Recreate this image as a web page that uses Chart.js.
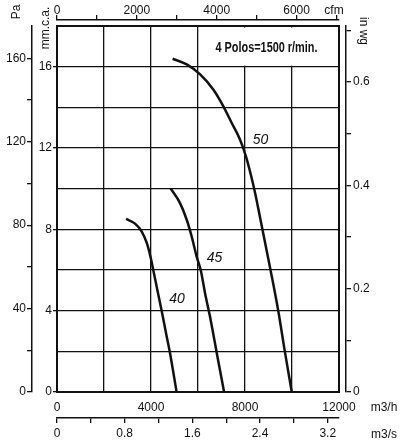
<!DOCTYPE html>
<html>
<head>
<meta charset="utf-8">
<script src="https://cdn.jsdelivr.net/npm/chart.js@4.4.1/dist/chart.umd.min.js"></script>
<style>
body { margin: 0; background: #fff; }
#wrap { width: 400px; height: 443px; position: relative; }
</style>
</head>
<body>
<div id="wrap"><canvas id="mycanvas"></canvas></div>
<script>
// flow in m3/h, pressure in mm c.a.
var flow40 = [2940, 3320, 3600, 3820, 3990, 4100, 4270, 4460, 4640, 4810, 5090];
var press40 = [8.51, 8.28, 7.90, 7.33, 6.59, 5.98, 5.02, 3.96, 2.89, 1.91, 0];

var flow45 = [4840, 5230, 5520, 5730, 5940, 6120, 6300, 6510, 6800, 7110];
var press45 = [10.0, 9.30, 8.47, 7.65, 6.67, 5.98, 4.86, 3.71, 1.91, 0];

var flow50 = [4920, 5520, 6090, 6650, 7080, 7430, 7790, 8040, 8230, 8430, 8660, 9090, 9420, 9700, 9990];
var press50 = [16.39, 16.11, 15.62, 14.88, 14.05, 13.24, 12.41, 11.59, 10.77, 9.79, 8.47, 5.98, 3.96, 1.96, 0];

var sizes = ["40", "45", "50"];
var title = "4 Polos=1500 r/min.";

// tick positions of the extra axes, each in its own unit
var cfmTicks = [0, 1000, 2000, 3000, 4000, 5000, 6000, 7000];
var m3sTicks = [0, 0.4, 0.8, 1.2, 1.6, 2.0, 2.4, 2.8, 3.2];
var paTicks = [0, 20, 40, 60, 80, 100, 120, 140, 160];
var inwgTicks = [0, 0.1, 0.2, 0.3, 0.4, 0.5, 0.6, 0.7];

// axis ranges and unit conversions
var maxFlow = 12000;      // m3/h
var maxMM = 18;           // mm c.a.
var PA_PER_MM = 9.75;
var MM_PER_INWG = 25.4;
var M3H_PER_CFM = 1.699;
var M3H_PER_M3S = 3600;

var ink = "#111";
var fam = '"Liberation Sans", Arial, Helvetica, sans-serif';
var tickFont = { family: fam, size: 12 };

function pts(xs, ys) {
	var out = [];
	for (var i in xs) out.push({ x: xs[i], y: ys[i] });
	return out;
}

function curve(label, xs, ys) {
	return {
		label: label,
		data: pts(xs, ys),
		borderColor: ink,
		borderWidth: 2.5,
		pointRadius: 0,
		fill: false,
		cubicInterpolationMode: "monotone",
		xAxisID: "x",
		yAxisID: "y"
	};
}

function fixW(w) { return function(s) { s.width = w; }; }
function fixH(h) { return function(s) { s.height = h; }; }
function useTicks(list) {
	return function(s) { s.ticks = list.map(function(v) { return { value: v }; }); };
}
// label every n-th step
function every(step, n, dec) {
	return function(v) {
		var k = Math.round(v / step);
		if (k % n !== 0) return "";
		return k === 0 ? "0" : (dec ? v.toFixed(dec) : String(v));
	};
}

var spacer = {
	display: true,
	ticks: { display: false },
	grid: { drawOnChartArea: false, drawTicks: false },
	border: { color: ink, width: 2 }
};

function extraAxis(pos, weight, max, list, labelFn, size, pad) {
	return {
		type: "linear", axis: (pos === "top" || pos === "bottom") ? "x" : "y",
		position: pos, weight: weight, min: 0, max: max,
		afterBuildTicks: useTicks(list),
		ticks: { autoSkip: false, maxRotation: 0, padding: pad, color: ink, font: tickFont, callback: labelFn },
		grid: { drawOnChartArea: false, color: ink, lineWidth: 1.3, tickLength: 5 },
		border: { color: ink, width: 1.5 },
		afterFit: (pos === "top" || pos === "bottom") ? fixH(size) : fixW(size)
	};
}

var labelsPlugin = {
	id: "labels",
	beforeDatasetsDraw: function(chart) {
		var ctx = chart.ctx;
		var sx = chart.scales.x, sy = chart.scales.y;
		var x0 = sx.getPixelForValue(6000), x1 = sx.getPixelForValue(maxFlow);
		var y0 = sy.getPixelForValue(maxMM), y1 = sy.getPixelForValue(16);
		ctx.save();
		ctx.fillStyle = "#fff";
		ctx.fillRect(x0 + 1, y0 + 1.5, x1 - x0 - 2.5, y1 - y0 - 2.5);
		// title, squeezed like the original condensed type
		ctx.font = "bold 14px " + fam;
		ctx.fillStyle = ink;
		ctx.textAlign = "center";
		ctx.textBaseline = "middle";
		var w = ctx.measureText(title).width;
		ctx.translate((x0 + x1) / 2 - 2, (y0 + y1) / 2 + 2);
		ctx.scale(102 / w, 1);
		ctx.fillText(title, 0, 0);
		ctx.restore();
	},
	afterDraw: function(chart) {
		var ctx = chart.ctx;
		var sx = chart.scales.x, sy = chart.scales.y;
		ctx.save();
		ctx.fillStyle = ink;
		ctx.textAlign = "center";
		ctx.textBaseline = "middle";

		ctx.font = "italic 14px " + fam;
		var at = [[5106, 4.56], [6702, 6.60], [8659, 12.41]];
		for (var i = 0; i < 3; i++) {
			ctx.fillText(sizes[i], sx.getPixelForValue(at[i][0]), sy.getPixelForValue(at[i][1]));
		}

		ctx.font = "12px " + fam;
		ctx.fillText("cfm", 334, 11);
		ctx.fillText("m3/h", 384, 408);
		ctx.fillText("m3/s", 384, 435);

		ctx.save();
		ctx.translate(17, 12);
		ctx.rotate(-Math.PI / 2);
		ctx.fillText("Pa", 0, 0);
		ctx.restore();

		ctx.save();
		ctx.translate(46, 28);
		ctx.rotate(-Math.PI / 2);
		ctx.fillText("mm.c.a.", 0, 0);
		ctx.restore();

		ctx.save();
		ctx.translate(363, 31);
		ctx.rotate(Math.PI / 2);
		ctx.fillText("in wg", 0, 0);
		ctx.restore();

		ctx.restore();
	}
};

var ctx = document.getElementById("mycanvas");

var FanChart = new Chart(ctx, {
	type: "line",
	data: {
		datasets: [
			curve(sizes[0], flow40, press40),
			curve(sizes[1], flow45, press45),
			curve(sizes[2], flow50, press50)
		]
	},
	plugins: [labelsPlugin],
	options: {
		responsive: true,
		maintainAspectRatio: false,
		animation: false,
		layout: { padding: 0, autoPadding: false },
		plugins: { legend: { display: false }, tooltip: { enabled: false } },
		scales: {
			x: {
				type: "linear", position: "bottom", weight: 0,
				min: 0, max: maxFlow,
				ticks: {
					stepSize: 2000, autoSkip: false, maxRotation: 0, padding: 8,
					color: ink, font: tickFont,
					callback: every(2000, 2, 0)
				},
				grid: { color: ink, lineWidth: 1.3, drawTicks: false },
				border: { color: ink, width: 2 },
				afterFit: fixH(26)
			},
			xs: extraAxis("bottom", 1, maxFlow / M3H_PER_M3S, m3sTicks, every(0.4, 2, 1), 25, 3),
			xtop: Object.assign({ type: "linear", axis: "x", position: "top", weight: 0,
				min: 0, max: maxFlow, afterFit: fixH(6) }, spacer),
			xcfm: extraAxis("top", 1, maxFlow / M3H_PER_CFM, cfmTicks, every(1000, 2, 0), 20, -3),
			y: {
				type: "linear", position: "left", weight: 0,
				min: 0, max: maxMM,
				ticks: {
					stepSize: 2, autoSkip: false, padding: 1,
					color: ink, font: tickFont,
					callback: every(2, 2, 0)
				},
				grid: {
					color: ink, lineWidth: 1.3, tickLength: 4,
					tickColor: function(c) { return c.tick && c.tick.value % 4 === 0 ? ink : "rgba(0,0,0,0)"; }
				},
				border: { color: ink, width: 2 },
				afterFit: fixW(25)
			},
			ypa: extraAxis("left", 1, maxMM * PA_PER_MM, paTicks, every(20, 2, 0), 32, 1),
			yright: Object.assign({ type: "linear", axis: "y", position: "right", weight: 0,
				min: 0, max: maxMM, afterFit: fixW(7) }, spacer),
			yin: extraAxis("right", 1, maxMM / MM_PER_INWG, inwgTicks, every(0.1, 2, 1), 54, 2)
		}
	}
});
</script>
</body>
</html>
